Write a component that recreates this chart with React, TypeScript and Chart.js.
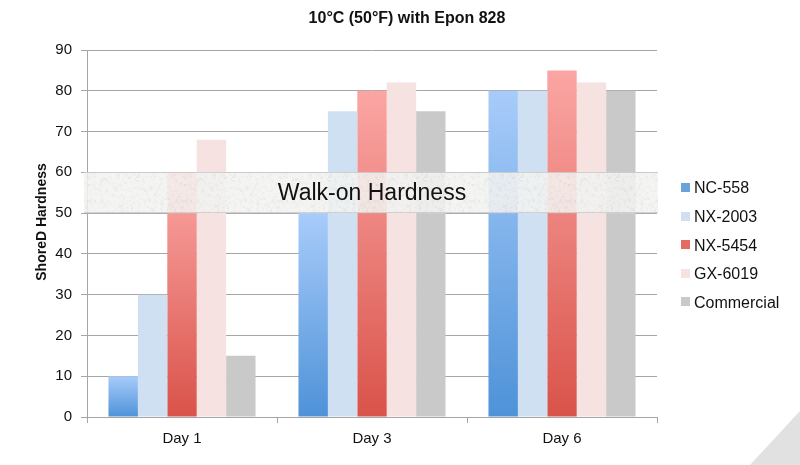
import React, { useEffect, useRef } from 'react';
import { Chart, registerables } from 'chart.js';

Chart.register(...registerables);

const categories = ['Day 1', 'Day 3', 'Day 6'];
const seriesNames = ['NC-558', 'NX-2003', 'NX-5454', 'GX-6019', 'Commercial'];
const nc558 = [10, 50, 80];
const nx2003 = [30, 75, 80];
const nx5454 = [60, 80, 85];
const gx6019 = [68, 82, 82];
const commercial = [15, 75, 80];
const seriesValues = [nc558, nx2003, nx5454, gx6019, commercial];
const yMin = 0;
const yMax = 90;
const yStep = 10;
const bandRange = [50, 60];
const bandLabel = 'Walk-on Hardness';
const titleText = '10°C (50°F) with Epon 828';
const yTitle = 'ShoreD Hardness';

const topColors = ['#a8ccfa', '#cfe0f3', '#fba6a4', '#f5e2e1', '#c9c9c9'];
const bottomColors = ['#4e92d8', '#cfe0f3', '#d9534a', '#f5e2e1', '#c9c9c9'];
const legendColors = ['#6aa2dc', '#cfe0f3', '#e46a64', '#f5e2e1', '#c9c9c9'];

const FONT = "'Liberation Sans', Arial, Helvetica, sans-serif";

function makeTexture(): HTMLCanvasElement {
  const c = document.createElement('canvas');
  c.width = 96;
  c.height = 96;
  const g = c.getContext('2d')!;
  g.fillStyle = 'rgb(243,243,241)';
  g.fillRect(0, 0, 96, 96);
  let s = 12345;
  const rnd = () => {
    s = (s * 1103515245 + 12345) & 0x7fffffff;
    return s / 0x7fffffff;
  };
  for (let i = 0; i < 900; i++) {
    const x = rnd() * 96;
    const y = rnd() * 96;
    const v = 214 + Math.floor(rnd() * 24);
    g.fillStyle = `rgba(${v},${v},${v - 3},0.4)`;
    g.fillRect(x, y, 1 + rnd() * 1.5, 1 + rnd() * 1.5);
  }
  return c;
}

const decorPlugin = {
  id: 'decor',
  beforeDraw(chart: any) {
    const { ctx, width, height } = chart;
    ctx.save();
    ctx.fillStyle = '#ffffff';
    ctx.fillRect(0, 0, width, height);
    ctx.fillStyle = '#e1e1e1';
    ctx.beginPath();
    ctx.moveTo(width - 50, height);
    ctx.lineTo(width, height - 54);
    ctx.lineTo(width, height);
    ctx.closePath();
    ctx.fill();
    ctx.restore();
  },
  afterDatasetsDraw(chart: any) {
    const { ctx, chartArea, scales } = chart;
    const yTop = scales.y.getPixelForValue(bandRange[1]);
    const yBot = scales.y.getPixelForValue(bandRange[0]);
    const x0 = chartArea.left - 3;
    const x1 = chartArea.right + 1;
    ctx.save();
    const pat = ctx.createPattern(makeTexture(), 'repeat');
    ctx.globalAlpha = 0.88;
    ctx.fillStyle = pat || 'rgb(243,243,241)';
    ctx.fillRect(x0, yTop, x1 - x0, yBot - yTop);
    ctx.globalAlpha = 1;
    ctx.strokeStyle = 'rgba(200,200,200,0.8)';
    ctx.lineWidth = 1;
    ctx.beginPath();
    ctx.moveTo(x0, Math.round(yTop) + 0.5);
    ctx.lineTo(x1, Math.round(yTop) + 0.5);
    ctx.moveTo(x0, Math.round(yBot) - 0.5);
    ctx.lineTo(x1, Math.round(yBot) - 0.5);
    ctx.stroke();
    ctx.fillStyle = '#111111';
    ctx.font = `23px ${FONT}`;
    ctx.textAlign = 'center';
    ctx.textBaseline = 'middle';
    ctx.fillText(bandLabel, (chartArea.left + chartArea.right) / 2, (yTop + yBot) / 2 + 1);
    ctx.restore();
  },
  afterDraw(chart: any) {
    const { ctx } = chart;
    ctx.save();
    ctx.fillStyle = '#111111';
    ctx.font = `bold 16px ${FONT}`;
    ctx.textAlign = 'center';
    ctx.textBaseline = 'middle';
    ctx.fillText(titleText, 407, 19);

    ctx.save();
    ctx.translate(42, 222);
    ctx.rotate(-Math.PI / 2);
    ctx.font = `bold 14px ${FONT}`;
    ctx.fillText(yTitle, 0, 0);
    ctx.restore();

    ctx.font = `16px ${FONT}`;
    ctx.textAlign = 'left';
    ctx.textBaseline = 'middle';
    seriesNames.forEach((name, i) => {
      const y = 188 + i * 28.6;
      ctx.fillStyle = legendColors[i];
      ctx.fillRect(681, Math.round(y) - 5, 9, 9);
      ctx.fillStyle = '#111111';
      ctx.fillText(name, 694, y + 1);
    });
    ctx.restore();
  },
};

export default function App() {
  const ref = useRef<HTMLCanvasElement>(null);
  useEffect(() => {
    if (!ref.current) return;
    const datasets = seriesNames.map((name, i) => ({
      label: name,
      data: seriesValues[i],
      borderWidth: 0,
      backgroundColor: (c: any) => {
        const chart = c.chart;
        const y = chart.scales && chart.scales.y;
        if (!y || c.type !== 'data' || c.raw == null) return topColors[i];
        const top = y.getPixelForValue(c.raw);
        const bot = y.getPixelForValue(0);
        if (!isFinite(top) || !isFinite(bot) || top === bot) return topColors[i];
        const g = chart.ctx.createLinearGradient(0, top, 0, bot);
        g.addColorStop(0, topColors[i]);
        g.addColorStop(1, bottomColors[i]);
        return g;
      },
      categoryPercentage: 0.774,
      barPercentage: 1,
    }));
    const chart = new Chart(ref.current, {
      type: 'bar',
      data: { labels: categories, datasets },
      options: {
        animation: false,
        responsive: true,
        maintainAspectRatio: false,
        layout: { padding: { top: 50, right: 143, left: 0, bottom: 0 } },
        plugins: {
          legend: { display: false },
          title: { display: false },
          tooltip: { enabled: false },
        },
        scales: {
          x: {
            afterFit: (s: any) => {
              s.height = 48;
            },
            grid: {
              offset: true,
              drawOnChartArea: false,
              drawTicks: true,
              tickLength: 6,
              color: '#a6a6a6',
            },
            border: { color: '#a6a6a6' },
            ticks: {
              color: '#111111',
              font: { family: FONT, size: 15 },
              padding: 7,
            },
          },
          y: {
            min: yMin,
            max: yMax,
            afterFit: (s: any) => {
              s.width = 87;
            },
            ticks: {
              stepSize: yStep,
              color: '#111111',
              font: { family: FONT, size: 15 },
              padding: 9,
            },
            grid: {
              color: '#a6a6a6',
              tickLength: 6,
            },
            border: { color: '#a6a6a6' },
          },
        },
      },
      plugins: [decorPlugin],
    });
    return () => chart.destroy();
  }, []);
  return (
    <div style={{ position: 'fixed', left: 0, top: 0, width: 800, height: 465, background: '#fff' }}>
      <canvas ref={ref} />
    </div>
  );
}
